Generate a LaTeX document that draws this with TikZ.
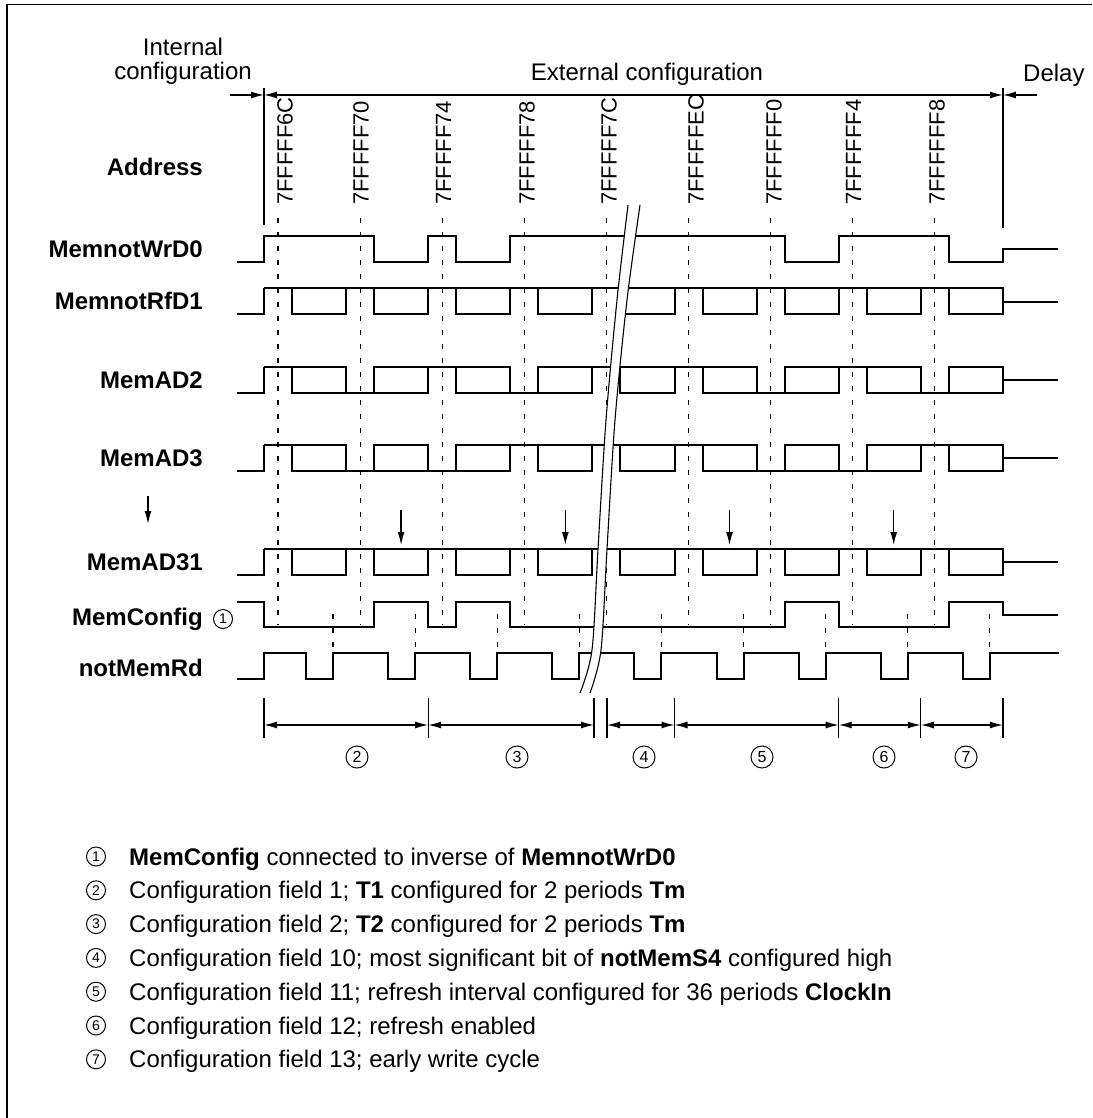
\documentclass[tikz,border=0pt]{standalone}
\usepackage{fontspec}
\setmainfont{Liberation Sans}
\usetikzlibrary{arrows.meta}
\tikzset{
 wave/.style={line width=2pt, line join=miter},
 guide/.style={line width=1.1pt, dash pattern=on 5pt off 9pt},
 dimln/.style={line width=1.3pt},
 onetip/.style={-{Latex[length=13pt,width=7pt]}},
 dimarrow/.style={{Latex[length=13pt,width=7pt]}-{Latex[length=13pt,width=7pt]}},
 siglab/.style={anchor=base east, inner sep=0pt, font=\fontsize{24}{24}\selectfont\bfseries},
 addr/.style={rotate=90, anchor=west, inner sep=0pt, font=\fontsize{22}{22}\selectfont},
 hdr/.style={anchor=base, inner sep=0pt, font=\fontsize{24}{24}\selectfont},
 cnum/.style={circle, draw, line width=1pt, inner sep=0pt, minimum size=22pt, font=\fontsize{16}{16}\selectfont},
 lnum/.style={circle, draw, line width=1pt, inner sep=0pt, minimum size=19pt, font=\fontsize{14}{14}\selectfont},
 legtxt/.style={anchor=base west, inner sep=0pt, font=\fontsize{24}{24}\selectfont},
}
\newcommand\busrow[4]{%
  \draw[wave] (237,#2) -- (264,#2) -- (264,#1);
  \foreach \b [count=\i from 0] in {#3} {%
    \pgfmathsetmacro\xs{264+82.1*\i}%
    \pgfmathsetmacro\xa{\xs+28}%
    \pgfmathsetmacro\xe{\xs+82.1}%
    \pgfmathsetmacro\yy{#2+\b*(#1-#2)}%
    \draw[wave] (\xs,\yy) -- (\xa,\yy);
    \draw[wave] (\xa,#1) rectangle (\xe,#2);
  }
  \draw[wave] (1002.9,#4) -- (1058,#4);
}
\begin{document}
\begin{tikzpicture}[x=1pt,y=-1pt]
\useasboundingbox (0,0) rectangle (1092,1118);
% frame
\draw[line width=1.5pt] (7,1118) -- (7,4.5) -- (1092,4.5);

% header
\node[hdr] (hint1) at (183,56) {Internal};
\node[hdr] (hint2) at (183,80) {configuration};
\node[hdr] (hext) at (647,81) {External configuration};
\node[hdr, anchor=base west] (hdel) at (1023,82) {Delay};
\coordinate (vl) at (264,95);
\coordinate (vr) at (1002.9,95);
\draw[dimln] (264,88) -- (264,225);
\draw[dimln] (1002.9,88) -- (1002.9,228);
\draw[dimln,onetip] (230,95) -- (vl);
\draw[dimln,dimarrow] (vl) -- (vr);
\draw[dimln,onetip] (1037,95) -- (vr);

% address labels
\foreach \x/\t in {285/7FFFFF6C, 361/7FFFFF70, 443.5/7FFFFF74, 527/7FFFFF78, 609/7FFFFF7C, 696/7FFFFFEC, 774/7FFFFFF0, 853.6/7FFFFFF4, 937/7FFFFFF8}
  \node[addr] (ad-\t) at (\x,205) {\t};

% guide lines
\foreach \i in {0,...,8} \draw[guide] ({278+82.1*\i},218) -- ({278+82.1*\i},625);
\foreach \i in {0,...,8} \draw[guide] ({333+82.1*\i},614) -- ({333+82.1*\i},679);

% signal labels
\node[siglab] (l0) at (203,175.5) {Address};
\node[siglab] (l1) at (203,257) {MemnotWrD0};
\node[siglab] (l2) at (203,309.5) {MemnotRfD1};
\node[siglab] (l3) at (203,388.5) {MemAD2};
\node[siglab] (l4) at (203,466.5) {MemAD3};
\node[siglab] (l5) at (203,570.5) {MemAD31};
\node[siglab] (l6) at (203,625) {MemConfig};
\node[lnum] (l6c) at (223,619) {1};
\node[siglab] (l7) at (203,676) {notMemRd};

% arrows
\draw[line width=1.3pt,onetip] (148,496) -- (148,524);
\foreach \x in {401.1,565.3,729.5,893.7} \draw[line width=1.3pt,onetip] (\x,510) -- (\x,545);

% MemnotWrD0
\draw[wave] (237,262) -- (264,262) -- (264,235.5) -- (374.1,235.5) -- (374.1,262) -- (428.2,262) -- (428.2,235.5) -- (456.2,235.5) -- (456.2,262) -- (510.3,262) -- (510.3,235.5) -- (784.6,235.5) -- (784.6,262) -- (838.7,262) -- (838.7,235.5) -- (948.8,235.5) -- (948.8,262) -- (1002.9,262) -- (1002.9,249) -- (1058,249);
% bus rows
\busrow{288}{314}{1,1,1,1,1,1,1,1,1}{302}
\busrow{367}{393}{1,0,1,0,1,1,0,1,0}{380}
\busrow{445}{471}{1,0,0,1,1,1,0,0,1}{458}
\busrow{549}{575}{1,1,1,1,1,1,1,1,1}{562}
% MemConfig
\draw[wave] (237,602) -- (264,602) -- (264,627) -- (374.1,627) -- (374.1,602) -- (428.2,602) -- (428.2,627) -- (456.2,627) -- (456.2,602) -- (510.3,602) -- (510.3,627) -- (784.6,627) -- (784.6,602) -- (838.7,602) -- (838.7,627) -- (948.8,627) -- (948.8,602) -- (1002.9,602) -- (1002.9,615) -- (1058,615);
% notMemRd
\draw[wave] (237,679) -- (264,679) -- (264,653) \foreach \i in {0,...,8} { -- ({264+82.1*\i+42},653) -- ({264+82.1*\i+42},679) -- ({264+82.1*\i+69},679) -- ({264+82.1*\i+69},653) } -- (1059,653);

% break
\fill[white] plot[smooth] coordinates {(628,205) (617,300) (606,420) (598,549) (592,650) (580,693)} -- plot[smooth] coordinates {(590,693) (601,650) (607,549) (615,420) (627,300) (640,205)} -- cycle;
\draw[line width=1.1pt] plot[smooth] coordinates {(628,205) (617,300) (606,420) (598,549) (592,650) (580,693)};
\draw[line width=1.1pt] plot[smooth] coordinates {(640,205) (627,300) (615,420) (607,549) (601,650) (590,693)};

% dimensions
\foreach \x in {264,428.2,594,607,674.5,838.7,920.8,1002.9} \draw[dimln] (\x,698) -- (\x,738);
\foreach \a/\b in {264/428.2, 428.2/594, 607/674.5, 674.5/838.7, 838.7/920.8, 920.8/1002.9}
  \draw[dimln,dimarrow] (\a,725) -- (\b,725);
\node[cnum] (c2) at (357,757) {2};
\node[cnum] (c3) at (517,757) {3};
\node[cnum] (c4) at (644,757) {4};
\node[cnum] (c5) at (762,757) {5};
\node[cnum] (c6) at (884,757) {6};
\node[cnum] (c7) at (966,757) {7};

% legend
\foreach \k/\t [count=\n] in {
  0/{\textbf{MemConfig} connected to inverse of \textbf{MemnotWrD0}},
  1/{Configuration field 1; \textbf{T1} configured for 2 periods \textbf{Tm}},
  2/{Configuration field 2; \textbf{T2} configured for 2 periods \textbf{Tm}},
  3/{Configuration field 10; most significant bit of \textbf{notMemS4} configured high},
  4/{Configuration field 11; refresh interval configured for 36 periods \textbf{ClockIn}},
  5/{Configuration field 12; refresh enabled},
  6/{Configuration field 13; early write cycle}} {
  \node[lnum] (ln\n) at (96,{865+33.8*\k-8.5}) {\n};
  \node[legtxt] (lt\n) at (129,{865+33.8*\k}) {\t};
}
\end{tikzpicture}
\end{document}
